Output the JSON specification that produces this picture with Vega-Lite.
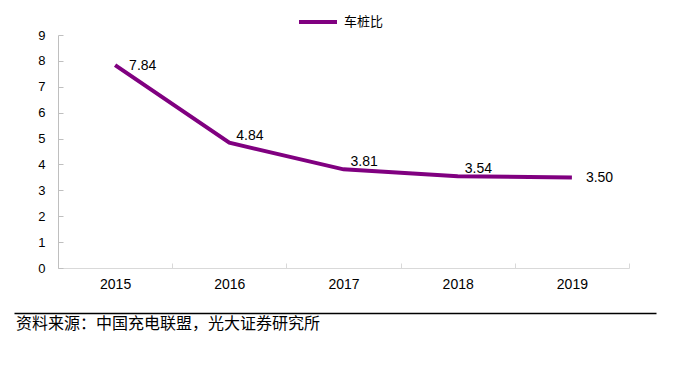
{
  "$schema": "https://vega.github.io/schema/vega-lite/v6.json",
  "padding": {"left": 14, "top": 1, "right": 5, "bottom": 5},
  "background": "white",
  "config": {"view": {"stroke": null}, "font": "Liberation Sans"},
  "spacing": 22,
  "resolve": {"scale": {"color": "independent", "x": "independent", "y": "independent"}, "legend": {"color": "independent"}},
  "vconcat": [
    {
      "width": 571,
      "height": 233,
      "data": {"values": [
        {"year": "2015", "ratio": 7.84, "series": "车桩比"},
        {"year": "2016", "ratio": 4.84, "series": "车桩比"},
        {"year": "2017", "ratio": 3.81, "series": "车桩比"},
        {"year": "2018", "ratio": 3.54, "series": "车桩比"},
        {"year": "2019", "ratio": 3.50, "series": "车桩比"}
      ]},
      "encoding": {
        "x": {"field": "year", "type": "ordinal", "bandPosition": 0.5,
          "scale": {"type": "band", "paddingInner": 0, "paddingOuter": 0},
          "axis": {"title": null, "labelAngle": 0, "labelFontSize": 14, "labelColor": "#000000", "labelPadding": 14,
            "domainColor": "#d9d9d9", "tickColor": "#d9d9d9", "tickSize": -5, "tickBand": "extent", "grid": false}},
        "y": {"field": "ratio", "type": "quantitative",
          "scale": {"domain": [0, 9], "nice": false},
          "axis": {"title": null, "values": [0,1,2,3,4,5,6,7,8,9], "labelFontSize": 13, "labelColor": "#000000", "labelPadding": 18,
            "domainColor": "#bfbfbf", "tickColor": "#bfbfbf", "tickSize": -5, "grid": false, "minExtent": 44}}
      },
      "layer": [
        {
          "mark": {"type": "line", "strokeWidth": 4},
          "encoding": {
            "color": {"field": "series", "type": "nominal", "scale": {"range": ["#800080"]},
              "legend": {"title": null, "orient": "none", "legendX": 239, "legendY": -34, "direction": "horizontal",
                "padding": 0, "symbolType": "stroke", "symbolSize": 1444, "symbolStrokeWidth": 4,
                "labelFont": "Noto Sans CJK SC", "labelFontSize": 13, "labelColor": "#000000", "labelOffset": 5}}
          }
        },
        {
          "transform": [{"filter": "datum.year == '2015' || datum.year == '2019'"}],
          "mark": {"type": "text", "align": "left", "baseline": "middle", "dx": 14, "dy": 1, "fontSize": 14, "color": "#000000"},
          "encoding": {"text": {"field": "ratio", "type": "quantitative", "format": ".2f"}}
        },
        {
          "transform": [{"filter": "datum.year != '2015' && datum.year != '2019'"}],
          "mark": {"type": "text", "align": "left", "baseline": "middle", "dx": 7, "dy": -7, "fontSize": 14, "color": "#000000"},
          "encoding": {"text": {"field": "ratio", "type": "quantitative", "format": ".2f"}}
        }
      ]
    },
    {
      "width": 571,
      "height": 21,
      "data": {"values": [{"src": "资料来源：中国充电联盟，光大证券研究所"}]},
      "mark": {"type": "text", "align": "left", "baseline": "middle", "dx": 2, "fontSize": 16, "font": "Noto Sans CJK SC", "color": "#000000", "clip": false},
      "encoding": {
        "x": {"datum": 0, "type": "quantitative", "scale": {"domain": [0, 1], "range": [-44, 598]},
          "axis": {"orient": "top", "title": null, "labels": false, "ticks": false, "grid": false,
            "domain": true, "domainColor": "#000000", "domainWidth": 1.3, "minExtent": 0, "maxExtent": 0}},
        "text": {"field": "src"}
      }
    }
  ]
}
